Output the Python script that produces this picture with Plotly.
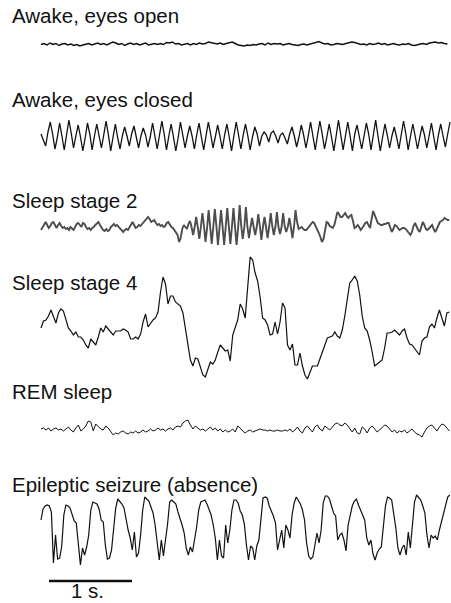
"""EEG traces for wake and sleep stages, with an absence seizure."""

import numpy as np
import plotly.graph_objects as go

# amplitudes in display units (up = positive), uniformly sampled
EYES_OPEN_DT = 0.036
EYES_OPEN = [
    0, 1, -0.5, 1.5, 0, 1, -1, 0.5, 1, -0.5,
    0.5, -1, 0, -1.5, -0.5, 0, 1, -0.5, 0.5, 1.5,
    0, 1, -0.5, 1, 2.5, 1.5, 0, 1, -1, 0.5,
    1.5, 0, 1, -0.5, 0.5, 1.5, -0.5, 0.5, 1, 0,
    1, 0, 2, 1.5, 2.5, 0.5, 1, -0.5, 0.5, 1,
    -0.5, 1, 0, 1.5, 0.5, 1, 2.5, 2, 1, 0.5,
    1.5, 0, 1, 2, 2.5, 1, -0.5, -1, -1.5, -0.5,
    -1, 0, -0.5, 0.5, 1, -0.5, 1.5, 0, 1, 0.5,
    1, -0.5, 0.5, 1, 0, -0.5, -1, 0, 0.5, -0.5,
    0.5, 1.5, 2, 3, 1.5, 0.5, 1, -0.5, 0, 1,
    0.5, 0, 1, 1.5, 2.5, 2, 1, 0, 0.5, -0.5,
    1, 0, 0.5, 1.5, 0, 1, -0.5, 0.5, 1, 0,
    -0.5, 0.5, 0, 1, -0.5, -1, 0, 0.5, 1, 0,
    1.5, 2, 2.5, 1.5, 2, 1, 0.5,
]

EYES_CLOSED_DT = 0.028
EYES_CLOSED = [
    2, -4, -10, 4, 14, 2, -13, -2, 13, 0, -14, 1, 16, 3, -12, 0,
    11, -1, -15, -2, 13, 2, -14, 0, 12, 0, -12, 1, 15, 1, -15, -1,
    12, -2, -13, 0, 9, 0, -10, 2, 10, -1, -12, 0, 8, 1, -11, -1,
    13, 0, -13, 1, 15, 2, -14, 0, 12, -1, -15, -2, 14, 1, -12, 0,
    10, 0, -13, 1, 13, -1, -14, 0, 14, 2, -12, -1, 11, 0, -13, 1,
    12, -1, -15, 0, 14, 1, -13, 1, 12, 0, -14, -1, 9, 2, -10, 0,
    4, 1, -6, 3, 5, 0, -7, 1, 3, -2, -8, 2, 9, 0, -11, -1,
    11, 1, -12, 0, 14, 0, -14, 1, 15, 2, -13, -1, 12, -1, -15, 0,
    16, 1, -14, 0, 14, 0, -15, 2, 11, -1, -13, 0, 13, 2, -14, 1,
    16, 0, -15, -1, 12, 1, -12, 0, 9, -1, -13, 1, 15, 2, -14, 0,
    12, 0, -13, -1, 10, 1, -12, 0, 13, -1, -14, 1, 12, 0, -11, 2,
    14,
]

STAGE2_DT = 0.0187
STAGE2 = [
    # background before the spindle
    -3, 0, 3, 5, 2, -1, 1, 4, 5, 1,
    -1, 2, 4, 1, -1, 0, -2, -1, -3, 0,
    -2, -3, 0, 3, 4, 2, 0, 4, 3, 0,
    -2, -1, -3, -1, 0, 2, 4, 5, 2, -1,
    -3, -4, -2, -4, -3, 0, 2, 3, 1, 2,
    0, -2, -4, -5, -3, -2, -3, 0, 3, 5,
    2, -1, 0, 2, 1, 3, 5, 7, 9, 10,
    8, 5, 6, 7, 4, 2, 3, 1, 2, 0,
    1, 4, 5, 2, 0, -1, -3, -5, -8, -15,
    -11, -2, 2, 0, -2, 3,
    # sleep spindle
    6, 0, -8, 0, 10, 0, -12, 0, 14, 1, -15, -1, 17, 0, -17, 0,
    18, 1, -18, -1, 17, 0, -18, 0, 19, 1, -17, 0, 19, 0, -18, -1,
    22, 1, -12, 0, 20, 0, -11, 0, 9, 0, -8, 0, 13, 1, -13, 0,
    10, 0, -11, 0, 14, 1, -8, 0, 15, 0, -7, 0, 14, 1, -5, 0,
    9, 0, -11, 0,
    # after the spindle
    17, 5, -2, -1, 0, -2, -3, -3, -1, 2,
    4, 5, 4, 1, -3, -6, -10, -15, -12, -3,
    5, 4, 1, 0, -1, 2, 10, 15, 13, 10,
    10, 12, 14, 11, 9, 11, 12, 6, -1, 0,
    2, 0, -3, -1, 2, 4, 5, 2, -1, 8,
    16, 12, 7, 4, 3, 2, 2, 3, 3, 4,
    4, 0, -5, -2, 2, 1, -1, -3, -2, -1,
    -1, -2, -4, -6, -8, -5, 1, 4, 0, -3,
    -5, 0, 5, 2, -2, -3, -1, 1, 2, -2,
    -5, -2, 2, 5, 6, 7, 9, 8, 7, 7,
]

STAGE4_DT = 0.03
STAGE4 = [
    2, 9, 10, 14, 20, 13, 7, 17, 21, 19,
    10, 2, -1, -5, -2, -7, -7, -10, -15, -18,
    -9, -12, -15, -7, 2, -2, 4, 1, -2, -5,
    -1, -1, -1, 1, 0, -2, -9, -9, -7, -9,
    -4, 8, 16, 3, 7, 10, 12, 18, 38, 53,
    46, 26, 34, 34, 28, 26, 24, 17, 0, -15,
    -30, -36, -28, -29, -36, -45, -47, -40, -32, -34,
    -30, -22, -15, -18, -21, -20, -31, -5, 2, 10,
    26, 21, 12, 40, 73, 70, 57, 49, 33, 12,
    10, 5, -5, -4, 8, -4, 8, 27, 22, -15,
    -20, -14, -35, -35, -23, -36, -45, -49, -42, -36,
    -36, -36, -29, -22, -14, -8, -7, -6, -2, -6,
    -8, 0, 14, 33, 47, 50, 54, 49, 35, 14,
    2, -1, -10, -22, -36, -34, -32, -30, -18, -3,
    -3, -2, 0, -3, -5, -1, 1, -8, -14, -15,
    -18, -22, -25, -11, -8, -7, 3, 6, 2, 12,
    20, 12, 4, 17, 18,
]

REM_DT = 0.03
REM = [
    1, 2, 0, 2, -1, 1, 2, 0, 1, -1,
    1, 3, 0, -2, 2, 5, -1, 1, 4, 9,
    8, -1, 6, 3, 1, 0, 4, 2, -2, -5,
    -3, -4, -2, -1, -3, -4, -2, -3, -1, -3,
    -2, 0, -2, -1, 1, -1, 0, 2, 0, 1,
    -1, 1, 2, 0, 3, 4, 3, 7, 9, 10,
    5, 1, 4, 2, 0, 1, -1, 1, 3, 0,
    2, -1, 1, -2, 0, -2, -1, 1, -2, 4,
    2, -1, -3, -1, 0, -2, -1, 0, 1, 0,
    0, -1, 0, -1, -1, 0, -1, -1, 0, -1,
    1, -2, 0, 3, -1, -3, 2, 4, 1, -2,
    3, 5, 1, -1, 4, 2, 0, 3, 6, 7,
    5, 4, 7, 5, 1, -2, 2, -3, -4, 3,
    1, -3, 2, 4, 1, -2, 0, 3, 5, 4,
    1, -2, 0, -3, -1, -2, 0, -3, -1, 1,
    -2, -4, -5, -7, -2, 2, 4, 5, 2, -1,
    3, 6, 5, 2, -1,
]

SEIZURE_DT = 0.025
SEIZURE = [
    10, 21, 24, 25, 24, 18, -33, -5, -29, -28,
    -16, 15, 25, 24, 22, 14, 9, 7, -17, -35,
    -18, -25, -17, -5, 20, 28, 27, 26, 21, 10,
    8, -15, -29, -28, -20, 2, 22, 31, 29, 26,
    22, 10, 0, -8, -20, -2, -27, -23, -5, 20,
    33, 31, 29, 23, 17, 5, -10, -30, -10, -26,
    -10, 6, 28, 30, 28, 26, 18, 12, 5, -3,
    -18, -25, -17, -22, -10, 3, 20, 28, 29, 30,
    26, 21, 15, 5, -8, -30, -10, -26, -28, 5,
    -13, 0, 20, 30, 30, 27, 19, 15, 6, -15,
    -30, -16, -18, -30, -16, -10, 10, 32, 33, 32,
    24, 19, 14, 7, -20, -10, 0, -18, 5, 0,
    -8, 15, 27, 33, 30, 26, 20, 10, -13, -26,
    -29, -27, -15, -3, -13, 0, 27, 34, 34, 31,
    24, 17, 14, -10, -5, -3, -10, -21, 5, 16,
    24, 29, 31, 25, 19, 15, 10, -8, -15, -10,
    -24, -30, -23, -19, -17, 3, 24, 33, 32, 30,
    17, 2, -18, -25, -18, -15, -25, -2, -18, 10,
    28, 35, 33, 30, 24, 17, -5, -18, -5, -8,
    -6, -10, 0, 8, 15, 25, 33, 35,
]

TRACES = [
    ("Awake, eyes open", EYES_OPEN, EYES_OPEN_DT),
    ("Awake, eyes closed", EYES_CLOSED, EYES_CLOSED_DT),
    ("Sleep stage 2", STAGE2, STAGE2_DT),
    ("Sleep stage 4", STAGE4, STAGE4_DT),
    ("REM sleep", REM, REM_DT),
    ("Epileptic seizure (absence)", SEIZURE, SEIZURE_DT),
]
SCALE_BAR_S = 1.0
SCALE_LABEL = "1 s."

# layout: vertical baseline of each trace, label centre, line style
BASELINES = [44.5, 136, 227, 330, 430, 530]
LABEL_Y = [15.5, 99.5, 200.5, 282.5, 391.5, 484.5]
STYLES = [
    dict(color="#111111", width=1.5),
    dict(color="#111111", width=1.3),
    dict(color="#4d4d4d", width=1.9),
    dict(color="#111111", width=1.2),
    dict(color="#111111", width=1.0),
    dict(color="#111111", width=1.2),
]
PX_PER_S = 83.0
X_LEFT = -41 / PX_PER_S
X_RIGHT = 410 / PX_PER_S
FONT = "Liberation Sans, Arial, sans-serif"

fig = go.Figure()

for (name, values, dt), base, style in zip(TRACES, BASELINES, STYLES):
    vals = np.asarray(values, dtype=float)
    t = np.arange(len(vals)) * dt
    fig.add_trace(go.Scatter(
        x=t, y=base - vals, mode="lines", name=name,
        line=dict(shape="linear", **style), showlegend=False,
        hoverinfo="skip",
    ))

for (name, _, _), ly in zip(TRACES, LABEL_Y):
    fig.add_annotation(
        x=-31 / PX_PER_S, y=ly, xref="x", yref="y",
        text=name, showarrow=False, xanchor="left", yanchor="middle",
        font=dict(family=FONT, size=20.5, color="#111111"),
    )

# scale bar
bar_start = 8 / PX_PER_S
fig.add_trace(go.Scatter(
    x=[bar_start, bar_start + SCALE_BAR_S], y=[581, 581], mode="lines",
    line=dict(color="#111111", width=2.5), showlegend=False, hoverinfo="skip",
))
fig.add_annotation(
    x=bar_start + SCALE_BAR_S / 2 - 0.04, y=590, xref="x", yref="y",
    text=SCALE_LABEL, showarrow=False, xanchor="center", yanchor="middle",
    font=dict(family=FONT, size=20.5, color="#111111"),
)

fig.update_layout(
    width=451, height=603,
    margin=dict(l=0, r=0, t=0, b=0),
    paper_bgcolor="white", plot_bgcolor="white",
    xaxis=dict(visible=False, range=[X_LEFT, X_RIGHT]),
    yaxis=dict(visible=False, range=[603, 0]),
)

# drop the page's default body margin so the figure sits at the window's corner
fig.write_html(
    "out.html",
    config={"displayModeBar": False, "staticPlot": True},
    post_script="document.body.style.margin='0';document.body.style.overflow='hidden';",
)
